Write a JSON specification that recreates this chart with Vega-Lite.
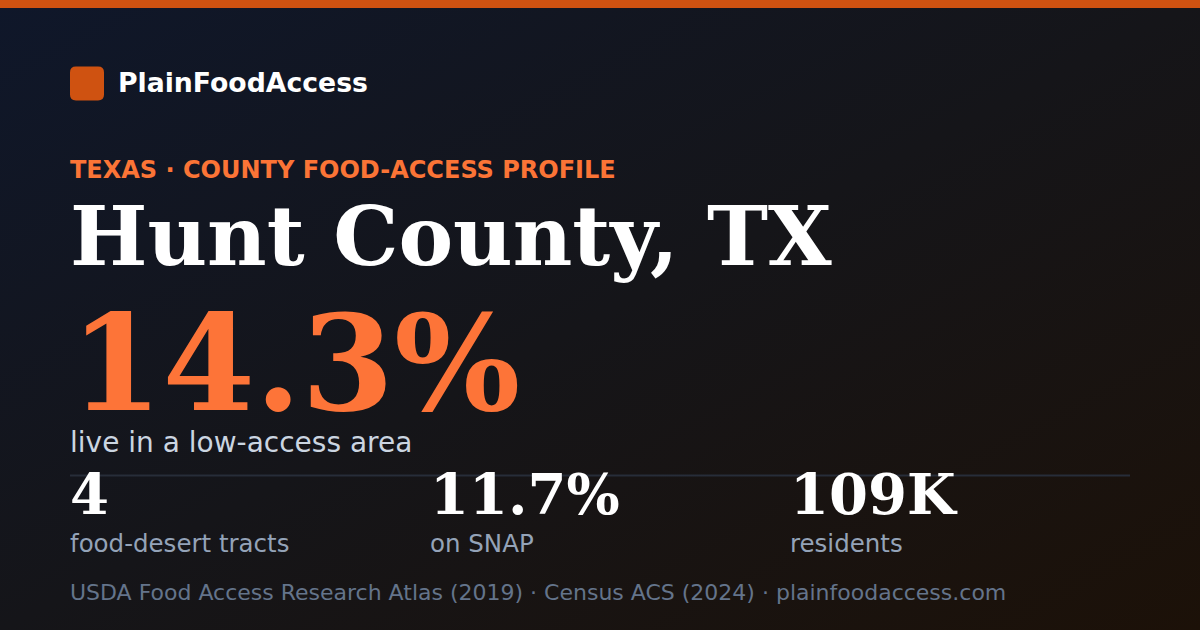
{
  "$schema": "https://vega.github.io/schema/vega-lite/v6.json",
  "width": 1200,
  "height": 630,
  "padding": 0,
  "autosize": {"type": "none"},
  "background": "#131419",
  "config": {
    "view": {"stroke": null},
    "text": {"font": "DejaVu Sans", "align": "left", "baseline": "alphabetic"}
  },
  "data": {
    "values": [
      {"role": "background"},
      {"role": "topbar", "row": 0},
      {"role": "logo", "row": 1, "col": 0},
      {"role": "brand", "row": 1, "col": 0, "text": "PlainFoodAccess"},
      {"role": "kicker", "row": 2, "col": 0, "text": "TEXAS · COUNTY FOOD-ACCESS PROFILE"},
      {"role": "title", "row": 3, "col": 0, "text": "Hunt County, TX"},
      {"role": "headline", "row": 4, "col": 0, "text": "14.3%"},
      {"role": "caption", "row": 5, "col": 0, "text": "live in a low-access area"},
      {"role": "divider", "row": 6, "col": 0, "col_end": 3},
      {"role": "stat_value", "row": 7, "col": 0, "text": "4"},
      {"role": "stat_value", "row": 7, "col": 1, "text": "11.7%"},
      {"role": "stat_value", "row": 7, "col": 2, "text": "109K"},
      {"role": "stat_label", "row": 8, "col": 0, "text": "food-desert tracts"},
      {"role": "stat_label", "row": 8, "col": 1, "text": "on SNAP"},
      {"role": "stat_label", "row": 8, "col": 2, "text": "residents"},
      {"role": "source", "row": 9, "col": 0, "text": "USDA Food Access Research Atlas (2019) · Census ACS (2024) · plainfoodaccess.com"}
    ]
  },
  "resolve": {"scale": {"x": "shared", "y": "shared"}},
  "layer": [
    {
      "transform": [{"filter": "datum.role === 'background'"}],
      "mark": {
        "type": "rect",
        "color": {
          "gradient": "linear",
          "x1": 0, "y1": 0, "x2": 1, "y2": 1,
          "stops": [
            {"offset": 0, "color": "#0f172a"},
            {"offset": 0.5, "color": "#151519"},
            {"offset": 1, "color": "#1c1108"}
          ]
        }
      },
      "encoding": {}
    },
    {
      "transform": [{"filter": "datum.role === 'topbar'"}],
      "mark": {"type": "rule", "color": "#cf5211", "strokeWidth": 8},
      "encoding": {
        "y": {
          "field": "row", "type": "quantitative", "axis": null,
          "scale": {
            "domain": [0, 1, 2, 3, 4, 5, 6, 7, 8, 9],
            "range": [4, 83.5, 177.5, 265, 410, 452, 475.5, 513.5, 552, 600],
            "nice": false, "zero": false
          }
        }
      }
    },
    {
      "transform": [{"filter": "datum.role === 'logo'"}],
      "mark": {
        "type": "point",
        "filled": true,
        "opacity": 1,
        "color": "#cf5211",
        "size": 1156,
        "xOffset": 17,
        "shape": "M -0.65 -1 L 0.65 -1 Q 1 -1 1 -0.65 L 1 0.65 Q 1 1 0.65 1 L -0.65 1 Q -1 1 -1 0.65 L -1 -0.65 Q -1 -1 -0.65 -1 Z"
      },
      "encoding": {
        "x": {
          "field": "col", "type": "quantitative", "axis": null,
          "scale": {"domain": [0, 1, 2, 3], "range": [70, 430, 790, 1130], "nice": false, "zero": false}
        },
        "y": {"field": "row", "type": "quantitative"}
      }
    },
    {
      "transform": [{"filter": "datum.role === 'brand'"}],
      "mark": {"type": "text", "fontSize": 26.7, "fontWeight": "bold", "color": "#ffffff", "baseline": "middle", "dx": 48},
      "encoding": {
        "x": {"field": "col", "type": "quantitative"},
        "y": {"field": "row", "type": "quantitative"},
        "text": {"field": "text"}
      }
    },
    {
      "transform": [{"filter": "datum.role === 'kicker'"}],
      "mark": {"type": "text", "fontSize": 24, "fontWeight": "bold", "color": "#fb7436"},
      "encoding": {
        "x": {"field": "col", "type": "quantitative"},
        "y": {"field": "row", "type": "quantitative"},
        "text": {"field": "text"}
      }
    },
    {
      "transform": [{"filter": "datum.role === 'title'"}],
      "mark": {"type": "text", "font": "DejaVu Serif", "fontSize": 82, "fontWeight": "bold", "color": "#ffffff"},
      "encoding": {
        "x": {"field": "col", "type": "quantitative"},
        "y": {"field": "row", "type": "quantitative"},
        "text": {"field": "text"}
      }
    },
    {
      "transform": [{"filter": "datum.role === 'headline'"}],
      "mark": {"type": "text", "font": "DejaVu Serif", "fontSize": 133, "fontWeight": "bold", "color": "#fd7438"},
      "encoding": {
        "x": {"field": "col", "type": "quantitative"},
        "y": {"field": "row", "type": "quantitative"},
        "text": {"field": "text"}
      }
    },
    {
      "transform": [{"filter": "datum.role === 'caption'"}],
      "mark": {"type": "text", "fontSize": 28, "color": "#cbd5e1"},
      "encoding": {
        "x": {"field": "col", "type": "quantitative"},
        "y": {"field": "row", "type": "quantitative"},
        "text": {"field": "text"}
      }
    },
    {
      "transform": [{"filter": "datum.role === 'divider'"}],
      "mark": {"type": "rule", "color": "#272d39", "strokeWidth": 2},
      "encoding": {
        "x": {"field": "col", "type": "quantitative"},
        "x2": {"field": "col_end"},
        "y": {"field": "row", "type": "quantitative"}
      }
    },
    {
      "transform": [{"filter": "datum.role === 'stat_value'"}],
      "mark": {"type": "text", "font": "DejaVu Serif", "fontSize": 56, "fontWeight": "bold", "color": "#ffffff"},
      "encoding": {
        "x": {"field": "col", "type": "quantitative"},
        "y": {"field": "row", "type": "quantitative"},
        "text": {"field": "text"}
      }
    },
    {
      "transform": [{"filter": "datum.role === 'stat_label'"}],
      "mark": {"type": "text", "fontSize": 24.5, "color": "#94a3b8"},
      "encoding": {
        "x": {"field": "col", "type": "quantitative"},
        "y": {"field": "row", "type": "quantitative"},
        "text": {"field": "text"}
      }
    },
    {
      "transform": [{"filter": "datum.role === 'source'"}],
      "mark": {"type": "text", "fontSize": 22, "color": "#64748b"},
      "encoding": {
        "x": {"field": "col", "type": "quantitative"},
        "y": {"field": "row", "type": "quantitative"},
        "text": {"field": "text"}
      }
    }
  ]
}
